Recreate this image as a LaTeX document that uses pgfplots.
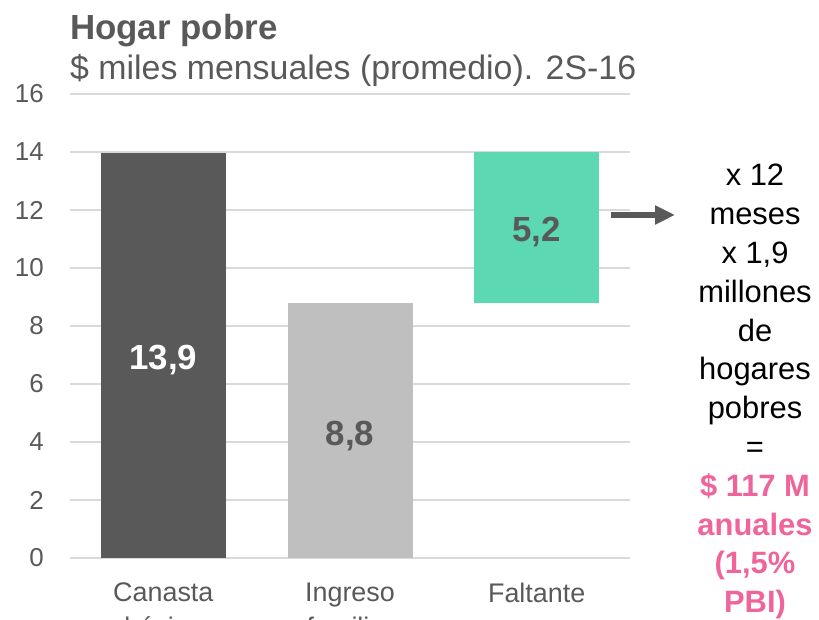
\documentclass[border=0pt]{standalone}
\usepackage{fontspec}
\setmainfont{Liberation Sans}
\usepackage{pgfplots}
\pgfplotsset{compat=1.18}
\usetikzlibrary{arrows.meta}
\definecolor{darkbar}{HTML}{595959}
\definecolor{lightbar}{HTML}{BFBFBF}
\definecolor{tealbar}{HTML}{5CD9B3}
\definecolor{pinktxt}{HTML}{F0649C}
\definecolor{gridc}{HTML}{D9D9D9}
\begin{document}
\begin{tikzpicture}[x=1bp,y=1bp]
\begin{axis}[
 at={(0,0)}, anchor=south west,
 width=560bp, height=464bp, scale only axis,
 xmin=-0.5, xmax=2.5, ymin=0, ymax=16,
 ytick={0,2,...,16}, xtick={0,1,2},
 xticklabels={{Canasta\\básica},{Ingreso\\familiar},{Faltante}},
 ybar stacked, bar width=125bp,
 axis line style={draw=none},
 major tick length=0pt,
 ymajorgrids, grid style={gridc, line width=1.6bp},
 yticklabel style={anchor=east, inner sep=0pt, xshift=-26bp, font=\fontsize{26}{26}\selectfont, text=darkbar},
 xticklabel style={anchor=north, inner sep=0pt, yshift=-25bp, align=center, font=\fontsize{27}{35}\selectfont, text=darkbar},
 /pgf/number format/assume math mode=true,
 clip=false,
]
\addplot[fill=darkbar, draw=none] coordinates {(0,13.95) (1,0) (2,0)};
\addplot[fill=lightbar, draw=none] coordinates {(0,0) (1,8.8) (2,0)};
\addplot[fill=none, draw=none] coordinates {(0,0) (1,0) (2,8.8)};
\addplot[fill=tealbar, draw=none] coordinates {(0,0) (1,0) (2,5.2)};
\coordinate (la) at (axis cs:0,6.5);
\coordinate (lb) at (axis cs:1,3.88);
\coordinate (lc) at (axis cs:2,10.93);
\end{axis}
\node[anchor=base, inner sep=0pt, font=\bfseries\fontsize{35}{35}\selectfont, text=white] at (la) {13,9};
\node[anchor=base, inner sep=0pt, font=\bfseries\fontsize{35}{35}\selectfont, text=darkbar] at (lb) {8,8};
\node[anchor=base, inner sep=0pt, font=\bfseries\fontsize{35}{35}\selectfont, text=darkbar] at (lc) {5,2};
\draw[-{Triangle[length=20bp,width=18bp]}, line width=6bp, darkbar] (541,343) -- (605,343);
\node[anchor=base west, inner sep=0pt, font=\bfseries\fontsize{35}{35}\selectfont, text=darkbar] at (0,518) {Hogar pobre};
\node[anchor=base west, inner sep=0pt, font=\fontsize{34}{34}\selectfont, text=darkbar] at (0,478) {\$ miles mensuales (promedio). 2S-16};
\begin{scope}[every node/.style={anchor=base, inner sep=0pt, font=\fontsize{31}{31}\selectfont}]
\node at (685,372) {x 12};
\node at (685,333.2) {meses};
\node at (685,294.4) {x 1,9};
\node at (685,255.6) {millones};
\node at (685,216.8) {de};
\node at (685,178) {hogares};
\node at (685,139.2) {pobres};
\node at (685,100.4) {=};
\node[font=\bfseries\fontsize{31}{31}\selectfont, text=pinktxt] at (685,61.6) {\$ 117 M};
\node[font=\bfseries\fontsize{31}{31}\selectfont, text=pinktxt] at (685,22.8) {anuales};
\node[font=\bfseries\fontsize{31}{31}\selectfont, text=pinktxt] at (685,-16) {(1,5\%};
\node[font=\bfseries\fontsize{31}{31}\selectfont, text=pinktxt] at (685,-54.8) {PBI)};
\end{scope}
\pgfresetboundingbox
\path[use as bounding box] (-70,-62) rectangle (749,558);
\end{tikzpicture}
\end{document}
